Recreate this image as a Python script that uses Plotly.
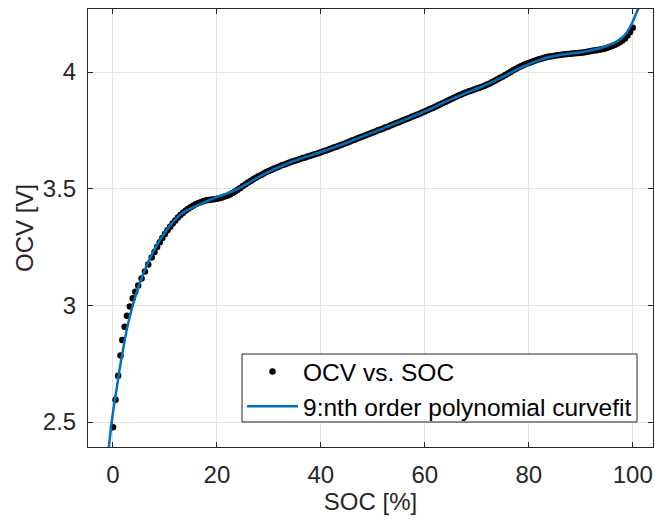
import plotly.graph_objects as go

# ---- data ----
soc = [0, 0.5, 1.0, 1.45, 1.8, 2.25, 2.7, 3.25, 3.8, 4.3, 4.85, 5.5, 6.15, 6.8, 7.45,
       8.0, 8.5, 9.0, 9.5, 10.0, 10.5, 11.0, 11.5, 12.0, 12.5, 13.0, 13.5, 14.0, 14.5,
       15.0, 15.5, 16.0, 16.5, 17.0, 17.5, 18.0, 18.5, 19.0, 19.5, 20.0, 20.5, 21.0, 21.5,
       22.0, 22.5, 23.0, 23.5, 24.0, 24.5, 25.0, 25.5, 26.0, 26.5, 27.0, 27.5, 28.0, 28.5,
       29.0, 29.5, 30.0, 30.5, 31.0, 31.5, 32.0, 32.5, 33.0, 33.5, 34.0, 34.5, 35.0, 35.5,
       36.0, 36.5, 37.0, 37.5, 38.0, 38.5, 39.0, 39.5, 40.0, 40.5, 41.0, 41.5, 42.0, 42.5,
       43.0, 43.5, 44.0, 44.5, 45.0, 45.5, 46.0, 46.5, 47.0, 47.5, 48.0, 48.5, 49.0, 49.5,
       50.0, 50.5, 51.0, 51.5, 52.0, 52.5, 53.0, 53.5, 54.0, 54.5, 55.0, 55.5, 56.0, 56.5,
       57.0, 57.5, 58.0, 58.5, 59.0, 59.5, 60.0, 60.5, 61.0, 61.5, 62.0, 62.5, 63.0, 63.5,
       64.0, 64.5, 65.0, 65.5, 66.0, 66.5, 67.0, 67.5, 68.0, 68.5, 69.0, 69.5, 70.0, 70.5,
       71.0, 71.5, 72.0, 72.5, 73.0, 73.5, 74.0, 74.5, 75.0, 75.5, 76.0, 76.5, 77.0, 77.5,
       78.0, 78.5, 79.0, 79.5, 80.0, 80.5, 81.0, 81.5, 82.0, 82.5, 83.0, 83.5, 84.0, 84.5,
       85.0, 85.5, 86.0, 86.5, 87.0, 87.5, 88.0, 88.5, 89.0, 89.5, 90.0, 90.5, 91.0, 91.5,
       92.0, 92.5, 93.0, 93.5, 94.0, 94.5, 95.0, 95.5, 96.0, 96.5, 97.0, 97.5, 98.0, 98.5,
       99.0, 99.5, 100.0]

ocv = [2.478, 2.595, 2.698, 2.785, 2.852, 2.908, 2.955, 2.995, 3.030, 3.058, 3.085, 3.115,
       3.145, 3.175, 3.205, 3.229, 3.250, 3.270, 3.289, 3.306, 3.322, 3.337, 3.351, 3.364,
       3.376, 3.387, 3.397, 3.406, 3.414, 3.421, 3.428, 3.434, 3.439, 3.443, 3.447, 3.450,
       3.452, 3.454, 3.455, 3.457, 3.459, 3.462, 3.466, 3.470, 3.475, 3.481, 3.488, 3.495,
       3.503, 3.511, 3.519, 3.526, 3.533, 3.540, 3.547, 3.553, 3.559, 3.565, 3.571, 3.576,
       3.581, 3.586, 3.591, 3.595, 3.600, 3.604, 3.608, 3.612, 3.616, 3.620, 3.623, 3.627,
       3.631, 3.634, 3.638, 3.641, 3.645, 3.649, 3.652, 3.656, 3.660, 3.664, 3.668, 3.672,
       3.676, 3.680, 3.684, 3.688, 3.693, 3.697, 3.701, 3.706, 3.710, 3.715, 3.719, 3.724,
       3.728, 3.732, 3.737, 3.741, 3.745, 3.750, 3.754, 3.758, 3.763, 3.767, 3.772, 3.776,
       3.781, 3.785, 3.790, 3.794, 3.799, 3.803, 3.808, 3.812, 3.817, 3.821, 3.826, 3.831,
       3.836, 3.841, 3.846, 3.851, 3.856, 3.862, 3.867, 3.872, 3.878, 3.883, 3.889, 3.894,
       3.899, 3.904, 3.909, 3.913, 3.917, 3.921, 3.925, 3.929, 3.933, 3.937, 3.941, 3.946,
       3.951, 3.957, 3.963, 3.969, 3.975, 3.981, 3.987, 3.994, 4.000, 4.007, 4.013, 4.019,
       4.025, 4.030, 4.035, 4.039, 4.043, 4.047, 4.051, 4.055, 4.058, 4.061, 4.064, 4.066,
       4.068, 4.070, 4.072, 4.073, 4.075, 4.076, 4.077, 4.078, 4.079, 4.080, 4.081, 4.082,
       4.084, 4.086, 4.088, 4.090, 4.092, 4.093, 4.095, 4.097, 4.100, 4.103, 4.107, 4.111,
       4.116, 4.121, 4.127, 4.135, 4.144, 4.156, 4.171, 4.190]

fit_soc = [-0.8, -0.4, 0.0, 0.4, 0.8, 1.2, 1.6, 2.0, 2.5, 3.0, 3.5, 4.0, 4.5, 5.0, 6.0,
           7.0, 8.0, 9.0, 10.0, 11.0, 12.0, 13.0, 14.0, 15.0, 16.0, 17.0, 18.0, 19.0, 20.0,
           21.0, 22.0, 23.0, 24.0, 25.0, 26.0, 28.0, 30.0, 32.0, 35.0, 40.0, 45.0, 50.0,
           55.0, 60.0, 63.0, 66.0, 69.0, 72.0, 75.0, 78.0, 80.0, 82.0, 84.0, 86.0, 88.0,
           90.0, 92.0, 94.0, 95.6, 97.0, 98.0, 98.8, 99.75, 100.7, 101.4]
fit_ocv = [2.390, 2.470, 2.540, 2.600, 2.655, 2.715, 2.768, 2.818, 2.878, 2.930, 2.975,
           3.015, 3.050, 3.085, 3.145, 3.195, 3.240, 3.278, 3.312, 3.342, 3.368, 3.390,
           3.405, 3.416, 3.426, 3.436, 3.446, 3.455, 3.464, 3.472, 3.480, 3.489, 3.499,
           3.511, 3.524, 3.550, 3.573, 3.593, 3.620, 3.657, 3.697, 3.741, 3.785, 3.831,
           3.862, 3.892, 3.920, 3.947, 3.979, 4.014, 4.034, 4.051, 4.064, 4.073, 4.079,
           4.085, 4.093, 4.104, 4.117, 4.132, 4.148, 4.167, 4.203, 4.253, 4.285]

x_ticks = [0, 20, 40, 60, 80, 100]
y_ticks = [2.5, 3, 3.5, 4]
y_tick_text = ["2.5", "3", "3.5", "4"]

FONT = "Liberation Sans, Arial, Helvetica, sans-serif"
AX = "#262626"
GRID = "#e3e3e3"

fig = go.Figure()
fig.add_trace(go.Scatter(
    x=soc, y=ocv, mode="markers", name="OCV vs. SOC",
    marker=dict(color="black", size=6.5, line=dict(width=0)),
))
fig.add_trace(go.Scatter(
    x=fit_soc, y=fit_ocv, mode="lines", name="9:nth order polynomial curvefit",
    line=dict(color="#0072BD", width=2.5, shape="spline"),
))

axis_common = dict(
    showgrid=True, gridcolor=GRID, gridwidth=1, zeroline=False,
    showline=True, linecolor=AX, linewidth=1, mirror="ticks",
    ticks="inside", ticklen=5, tickcolor=AX, tickwidth=1,
    tickfont=dict(family=FONT, size=24, color=AX),
)

# legend frame (white box with dark border), legend entries placed inside it
fig.add_shape(type="rect", xref="paper", yref="paper",
              x0=0.2726, x1=0.9717, y0=0.0571, y1=0.2123,
              fillcolor="white", line=dict(color=AX, width=1), layer="above")

fig.update_layout(
    width=655, height=521,
    margin=dict(l=88, r=2, t=9, b=74, autoexpand=False),
    paper_bgcolor="white", plot_bgcolor="white",
    font=dict(family=FONT, size=24, color=AX),
    xaxis=dict(range=[-4.8, 103.9], tickvals=x_ticks,
               title=dict(text="SOC [%]", font=dict(family=FONT, size=24, color=AX), standoff=6),
               ticklabelstandoff=6, **axis_common),
    yaxis=dict(range=[2.393, 4.27], tickvals=y_ticks, ticktext=y_tick_text,
               title=dict(text="OCV [V]", font=dict(family=FONT, size=24, color=AX), standoff=2),
               ticklabelstandoff=6, **axis_common),
    legend=dict(x=0.2726, xanchor="left", y=0.2237, yanchor="top",
                bgcolor="rgba(0,0,0,0)", borderwidth=0,
                font=dict(family=FONT, size=24.5, color="black"),
                itemwidth=51, tracegroupgap=0),
    showlegend=True,
)

fig.write_html("out.html")
